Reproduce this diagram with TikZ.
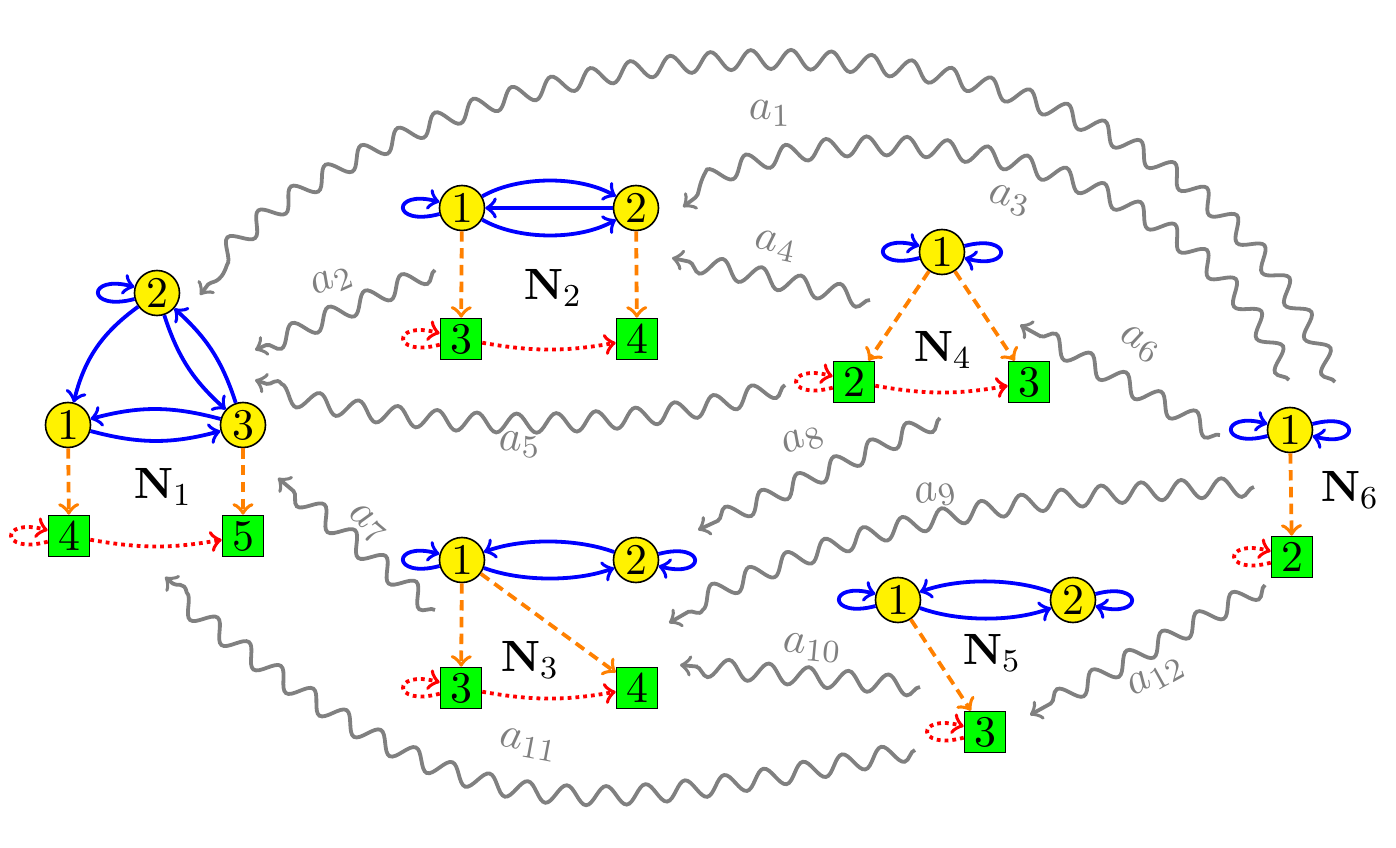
\documentclass[tikz,border=0pt]{standalone}
\usetikzlibrary{decorations.pathmorphing}
\begin{document}
\begin{tikzpicture}[x=0.25pt,y=0.25pt,
  every node/.style={font=\fontsize{10.95}{13}\selectfont},
  vtx/.style={circle,draw,fill=yellow,minimum size=11.25pt,inner sep=0pt},
  sq/.style={rectangle,draw,fill=green,minimum size=10.25pt,inner sep=0pt},
  be/.style={->,blue,line width=0.95pt},
  oe/.style={->,orange,line width=0.95pt,dash pattern=on 2.6pt off 1.6pt},
  re/.style={->,red,line width=0.95pt,dash pattern=on 0.95pt off 1pt},
  lpl/.style={loop left,min distance=4.4mm},
  lpr/.style={loop right,min distance=4.4mm},
  snk/.style={->,gray,line width=0.95pt,decorate,decoration={snake,amplitude=2.4pt,segment length=10pt,post length=2pt}},
  lab/.style={text=gray,inner sep=1pt,sloped}
]
\useasboundingbox (0,0) rectangle (1396,848);

% ---------- N1 ----------
\node[vtx] (n12) at (157,555) {2};
\node[vtx] (n11) at (68,423) {1};
\node[vtx] (n13) at (243,423) {3};
\node[sq] (n14) at (69,312) {4};
\node[sq] (n15) at (243,312) {5};
\node (L1) at (163,361) {$\mathbf{N}_1$};
\draw[be] (n12) to[bend right=20] (n11);
\draw[be] (n12) to[bend right=15] (n13);
\draw[be] (n13) to[bend right=15] (n12);
\draw[be] (n11) to[bend right=15] (n13);
\draw[be] (n13) to[bend right=15] (n11);
\draw[be] (n12) to[lpl] (n12);
\draw[oe] (n11) -- (n14);
\draw[oe] (n13) -- (n15);
\draw[re] (n14) to[bend right=10] (n15);
\draw[re] (n14) to[lpl] (n14);

% ---------- N2 ----------
\node[vtx] (n21) at (462,640) {1};
\node[vtx] (n22) at (636,640) {2};
\node[sq] (n23) at (461,509) {3};
\node[sq] (n24) at (637,509) {4};
\node (L2) at (553,560) {$\mathbf{N}_2$};
\draw[be] (n21) to[bend left=30,looseness=0.8] (n22);
\draw[be] (n22) -- (n21);
\draw[be] (n21) to[bend right=30,looseness=0.8] (n22);
\draw[be] (n21) to[lpl] (n21);
\draw[oe] (n21) -- (n23);
\draw[oe] (n22) -- (n24);
\draw[re] (n23) to[bend right=10] (n24);
\draw[re] (n23) to[lpl] (n23);

% ---------- N4 ----------
\node[vtx] (n41) at (942,596) {1};
\node[sq] (n42) at (854,466) {2};
\node[sq] (n43) at (1029,466) {3};
\node (L4) at (943,498) {$\mathbf{N}_4$};
\draw[be] (n41) to[lpl] (n41);
\draw[be] (n41) to[lpr] (n41);
\draw[oe] (n41) -- (n42);
\draw[oe] (n41) -- (n43);
\draw[re] (n42) to[bend right=10] (n43);
\draw[re] (n42) to[lpl] (n42);

% ---------- N3 ----------
\node[vtx] (n31) at (462,288) {1};
\node[vtx] (n32) at (636,288) {2};
\node[sq] (n33) at (461,160) {3};
\node[sq] (n34) at (637,160) {4};
\node (L3) at (530,188) {$\mathbf{N}_3$};
\draw[be] (n32) to[bend right=20,looseness=0.8] (n31);
\draw[be] (n31) to[bend right=20,looseness=0.8] (n32);
\draw[be] (n31) to[lpl] (n31);
\draw[be] (n32) to[lpr] (n32);
\draw[oe] (n31) -- (n33);
\draw[oe] (n31) -- (n34);
\draw[re] (n33) to[bend right=10] (n34);
\draw[re] (n33) to[lpl] (n33);

% ---------- N5 ----------
\node[vtx] (n51) at (898,248) {1};
\node[vtx] (n52) at (1073,248) {2};
\node[sq] (n53) at (985,116) {3};
\node (L5) at (992,195) {$\mathbf{N}_5$};
\draw[be] (n52) to[bend right=20,looseness=0.8] (n51);
\draw[be] (n51) to[bend right=20,looseness=0.8] (n52);
\draw[be] (n51) to[lpl] (n51);
\draw[be] (n52) to[lpr] (n52);
\draw[oe] (n51) -- (n53);
\draw[re] (n53) to[lpl] (n53);

% ---------- N6 ----------
\node[vtx] (n61) at (1290,418) {1};
\node[sq] (n62) at (1292,291) {2};
\node (L6) at (1350,358) {$\mathbf{N}_6$};
\draw[be] (n61) to[lpl] (n61);
\draw[be] (n61) to[lpr] (n61);
\draw[oe] (n61) -- (n62);
\draw[re] (n62) to[lpl] (n62);

% ---------- snake connectors ----------
\coordinate (a1s) at (1335,466);  \coordinate (a1e) at (200,553);
\coordinate (a2s) at (435,578);   \coordinate (a2e) at (255,498);
\coordinate (a3s) at (1289,468);  \coordinate (a3e) at (683,641);
\coordinate (a4s) at (870,548);   \coordinate (a4e) at (672,590);
\coordinate (a5s) at (785,463);   \coordinate (a5e) at (255,468);
\coordinate (a6s) at (1220,413);  \coordinate (a6e) at (1020,523);
\coordinate (a7s) at (435,238);   \coordinate (a7e) at (278,370);
\coordinate (a8s) at (940,430);   \coordinate (a8e) at (698,318);
\coordinate (a9s) at (1254,361);  \coordinate (a9e) at (669,225);
\coordinate (a10s) at (920,161);  \coordinate (a10e) at (680,183);
\coordinate (a11s) at (915,98);   \coordinate (a11e) at (165,271);
\coordinate (a12s) at (1265,263); \coordinate (a12e) at (1030,133);

\draw[snk] (a1s) .. controls (1141,924) and (399,815) .. (a1e)
  node[lab,pos=0.5,below=6.6pt] {$a_1$};
\draw[snk] (a2s) -- (a2e) node[lab,pos=0.5,above=3.2pt] {$a_2$};
\draw[snk] (a3s) .. controls (1167,730) and (789,727) .. (a3e)
  node[lab,pos=0.45,below=3.1pt] {$a_3$};
\draw[snk] (a4s) -- (a4e) node[lab,pos=0.51,above=3.6pt] {$a_4$};
\draw[snk] (a5s) .. controls (635,413) and (405,418) .. (a5e)
  node[lab,pos=0.5,below=1.6pt] {$a_5$};
\draw[snk] (a6s) -- (a6e) node[lab,pos=0.5,above=5.6pt] {$a_6$};
\draw[snk] (a7s) -- (a7e) node[lab,pos=0.52,above=0.8pt] {$a_7$};
\draw[snk] (a8s) -- (a8e) node[lab,pos=0.5,above=4.6pt] {$a_8$};
\draw[snk] (a9s) .. controls (1055,356) and (846,330) .. (a9e)
  node[lab,pos=0.52,above=1.9pt] {$a_9$};
\draw[snk] (a10s) -- (a10e) node[lab,pos=0.46,above=2.6pt] {$a_{10}$};
\draw[snk] (a11s) .. controls (557,28) and (471,14) .. (a11e)
  node[lab,pos=0.5,above=5.8pt] {$a_{11}$};
\draw[snk] (a12s) -- (a12e) node[lab,pos=0.52,below=2.4pt] {$a_{12}$};
\end{tikzpicture}
\end{document}
